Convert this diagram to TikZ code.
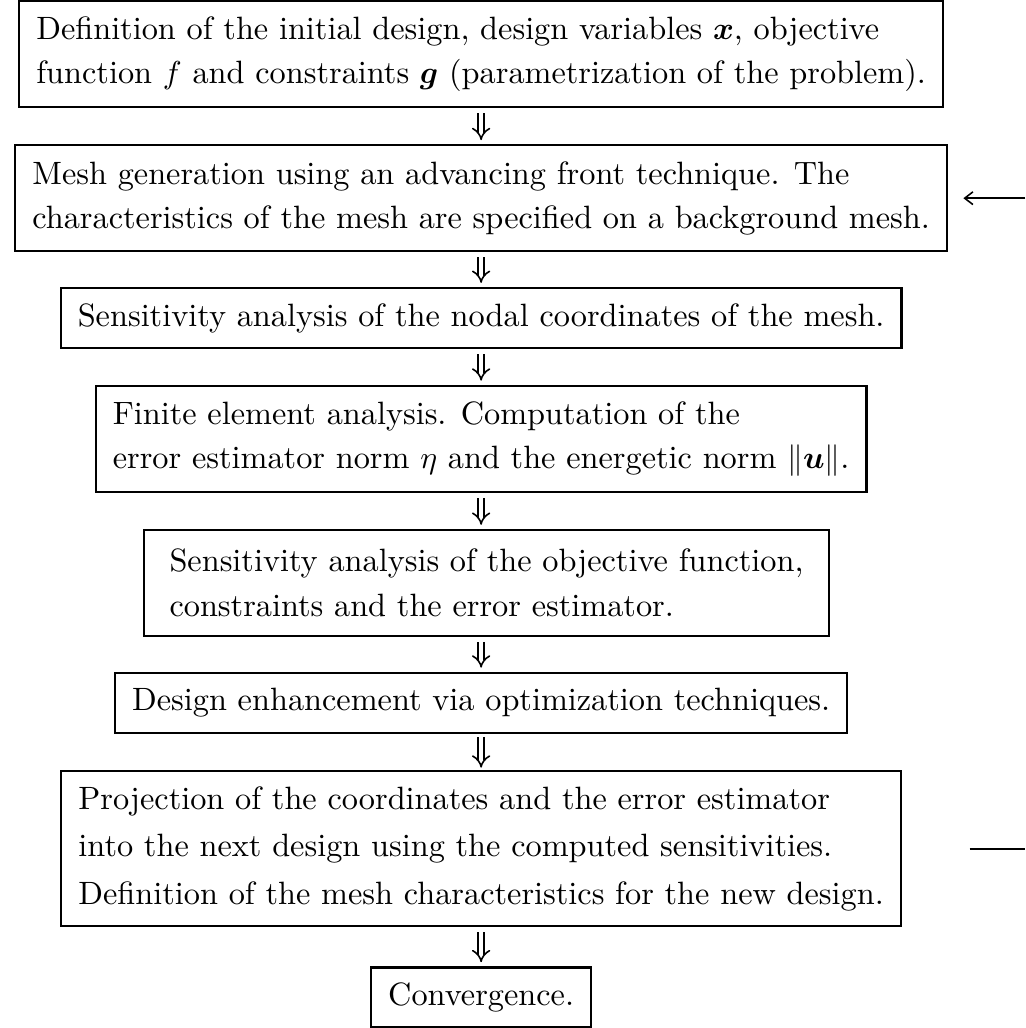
\documentclass[tikz,border=0pt]{standalone}
\usepackage{amsmath,amssymb}
\usetikzlibrary{arrows.meta}

\begin{document}
\begin{tikzpicture}[x=1cm,y=1cm]
\tikzset{
  stepbox/.style={draw=black,line width=0.7pt,align=left,inner xsep=5.4pt,inner ysep=2pt,font=\fontsize{10.2}{14}\selectfont},
  onebox/.style={stepbox,minimum height=18.9pt},
  twobox/.style={stepbox,minimum height=33.4pt},
  threebox/.style={stepbox,minimum height=48.9pt,font=\fontsize{10.2}{15}\selectfont},
  steparrow/.style={draw=black,double,double distance=1.5pt,line width=0.5pt,-{Implies},shorten <=1.6pt,shorten >=1.3pt},
  feedback/.style={draw=black,line width=0.5pt}
}
\useasboundingbox (0,0) rectangle (11.38,-11.41);
\node[twobox] (n_init) at (5.34,-0.60) {Definition of the initial design, design variables $\boldsymbol{x}$, objective\\function $f$ and constraints $\boldsymbol{g}$ (parametrization of the problem).};
\node[twobox] (n_mesh) at (5.34,-2.20) {Mesh generation using an advancing front technique. The\\characteristics of the mesh are specified on a background mesh.};
\node[onebox] (n_nodal) at (5.34,-3.53) {Sensitivity analysis of the nodal coordinates of the mesh.};
\node[twobox] (n_fea) at (5.34,-4.87) {Finite element analysis. Computation of the\\error estimator norm $\eta$ and the energetic norm $\|\boldsymbol{u}\|$.};
\node[twobox,minimum width=7.6cm] (n_obj) at (5.40,-6.47) {Sensitivity analysis of the objective function,\\constraints and the error estimator.};
\node[onebox] (n_enh) at (5.34,-7.80) {Design enhancement via optimization techniques.};
\node[threebox] (n_proj) at (5.34,-9.42) {Projection of the coordinates and the error estimator\\into the next design using the computed sensitivities.\\Definition of the mesh characteristics for the new design.};
\node[onebox] (n_conv) at (5.34,-11.07) {Convergence.};
\coordinate (c_loopin) at (11.38,-2.20);
\coordinate (c_loopout) at (11.38,-9.42);
\draw[steparrow] (n_init) -- (n_mesh);
\draw[steparrow] (n_mesh) -- (n_nodal);
\draw[steparrow] (n_nodal) -- (n_fea);
\draw[steparrow] (n_fea) -- (n_fea |- n_obj.north);
\draw[steparrow] (n_fea |- n_obj.south) -- (n_enh);
\draw[steparrow,shorten <=1pt,shorten >=0.8pt] (n_enh) -- (n_proj);
\draw[steparrow] (n_proj) -- (n_conv);
\draw[feedback,-{Straight Barb[length=2.6pt,width=4pt]},shorten >=0.17cm] (c_loopin) -- (n_mesh);
\draw[feedback,shorten <=0.75cm] (n_proj) -- (c_loopout);
\end{tikzpicture}
\end{document}
